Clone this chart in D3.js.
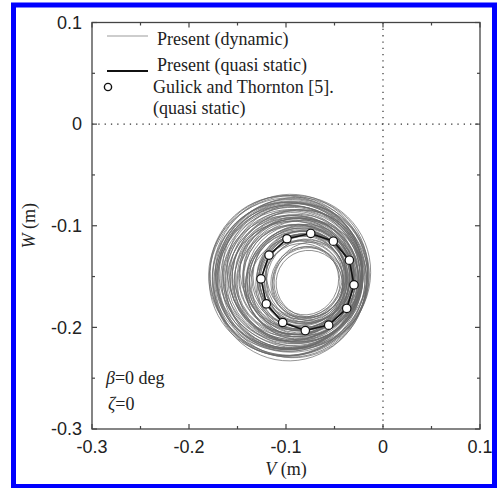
<!DOCTYPE html>
<html lang="en">
<head>
<meta charset="UTF-8">
<title>V-W orbit</title>
<style>
  body { margin: 0; background: #fff; }
  svg text { fill: #222; }
</style>
<script src="https://cdn.jsdelivr.net/npm/d3@7"></script>
</head>
<body>
<script>
// quasi static orbit (present) and Gulick and Thornton points
var qsV = [-0.0745, -0.0512, -0.0347, -0.0299, -0.0374, -0.0560, -0.0801, -0.1034, -0.1203, -0.1258, -0.1175, -0.0990];
var qsW = [-0.1076, -0.1152, -0.1339, -0.1582, -0.1814, -0.1978, -0.2031, -0.1952, -0.1769, -0.1523, -0.1289, -0.1128];

// dynamic response loops: centre, half widths and tilt of each loop
var loopV  = [-0.079, -0.077, -0.082, -0.079, -0.084, -0.080, -0.085, -0.082, -0.087, -0.083, -0.088, -0.085, -0.090, -0.086,
              -0.091, -0.087, -0.092, -0.089, -0.094, -0.090, -0.095, -0.092, -0.096, -0.094, -0.097, -0.095, -0.098, -0.096,
              -0.076, -0.081, -0.078, -0.083, -0.081, -0.086, -0.084, -0.089, -0.087, -0.089, -0.091, -0.088, -0.092, -0.094,
              -0.093, -0.097, -0.094, -0.097,
              -0.078, -0.080, -0.079, -0.082, -0.083, -0.084, -0.083, -0.087, -0.086, -0.088, -0.087, -0.090, -0.089, -0.092,
              -0.091, -0.093, -0.092, -0.095, -0.094, -0.096, -0.095, -0.097, -0.097, -0.096, -0.085, -0.090, -0.094, -0.081,
              -0.084, -0.095];
var loopW  = [-0.154, -0.156, -0.154, -0.153, -0.155, -0.152, -0.156, -0.151, -0.154, -0.150, -0.155, -0.151, -0.153, -0.149,
              -0.154, -0.151, -0.152, -0.148, -0.153, -0.150, -0.151, -0.148, -0.152, -0.149, -0.151, -0.150, -0.150, -0.149,
              -0.157, -0.152, -0.157, -0.150, -0.155, -0.152, -0.156, -0.150, -0.154, -0.149, -0.155, -0.150, -0.147, -0.154,
              -0.150, -0.150, -0.152, -0.148,
              -0.153, -0.156, -0.151, -0.157, -0.153, -0.150, -0.156, -0.151, -0.153, -0.155, -0.150, -0.153, -0.151, -0.154,
              -0.149, -0.152, -0.150, -0.153, -0.149, -0.151, -0.150, -0.152, -0.149, -0.151, -0.151, -0.152, -0.151, -0.154,
              -0.152, -0.150];
var loopRV = [0.033, 0.036, 0.040, 0.041, 0.043, 0.045, 0.046, 0.048, 0.050, 0.051, 0.053, 0.055, 0.056, 0.058,
              0.060, 0.061, 0.063, 0.065, 0.066, 0.068, 0.070, 0.071, 0.073, 0.075, 0.076, 0.078, 0.080, 0.081,
              0.034, 0.039, 0.042, 0.044, 0.047, 0.049, 0.052, 0.054, 0.057, 0.059, 0.062, 0.064, 0.067, 0.069,
              0.072, 0.074, 0.077, 0.079,
              0.035, 0.037, 0.040, 0.042, 0.045, 0.047, 0.049, 0.051, 0.053, 0.055, 0.057, 0.059, 0.061, 0.063,
              0.065, 0.067, 0.069, 0.071, 0.073, 0.075, 0.077, 0.079, 0.081, 0.080, 0.058, 0.064, 0.070, 0.046,
              0.052, 0.074];
var loopRW = [0.034, 0.035, 0.041, 0.043, 0.041, 0.046, 0.048, 0.046, 0.052, 0.050, 0.055, 0.053, 0.058, 0.057,
              0.061, 0.063, 0.061, 0.066, 0.068, 0.066, 0.071, 0.073, 0.072, 0.076, 0.078, 0.077, 0.080, 0.081,
              0.033, 0.040, 0.044, 0.043, 0.049, 0.047, 0.054, 0.052, 0.059, 0.058, 0.064, 0.062, 0.069, 0.067,
              0.074, 0.073, 0.078, 0.079,
              0.038, 0.034, 0.044, 0.038, 0.049, 0.043, 0.053, 0.047, 0.057, 0.050, 0.061, 0.054, 0.066, 0.058,
              0.069, 0.062, 0.073, 0.066, 0.076, 0.070, 0.080, 0.075, 0.079, 0.082, 0.058, 0.064, 0.070, 0.046,
              0.052, 0.074];
var loopTilt = [20, 70, 120, 160, 40, 95, 10, 135, 60, 170, 25, 110, 75, 150,
                5, 85, 130, 45, 100, 165, 30, 140, 65, 115, 15, 90, 155, 50,
                140, 55, 175, 80, 35, 125, 0, 95, 160, 20, 105, 70, 145, 10,
                120, 40, 170, 85,
                30, 100, 150, 60, 10, 120, 75, 165, 40, 90, 135, 15, 80, 125,
                55, 170, 25, 110, 65, 145, 35, 95, 160, 5, 50, 140, 100, 0,
                70, 20];

var xTicks = [-0.3, -0.2, -0.1, 0, 0.1];
var yTicks = [0.1, 0, -0.1, -0.2, -0.3];
var minorTicks = [-0.3, -0.25, -0.2, -0.15, -0.1, -0.05, 0, 0.05, 0.1];
var legendLabels = ["Present (dynamic)", "Present (quasi static)", "Gulick and Thornton [5].", "(quasi static)"];

var W = 498, H = 488;
var pL = 92, pR = 480, pT = 22.5, pB = 429;

var svg = d3.select("body").append("svg")
    .attr("width", W)
    .attr("height", H);

var x = d3.scaleLinear().domain([-0.3, 0.1]).range([pL, pR]);
var y = d3.scaleLinear().domain([-0.3, 0.1]).range([pB, pT]);

svg.append("defs").append("clipPath").attr("id", "plot")
    .append("rect")
    .attr("x", pL).attr("y", pT)
    .attr("width", pR - pL).attr("height", pB - pT);

// dotted reference lines at zero
svg.append("line")
    .attr("x1", pL).attr("x2", pR)
    .attr("y1", y(0)).attr("y2", y(0))
    .attr("stroke", "#333").attr("stroke-width", 1.2)
    .attr("stroke-dasharray", "1.3,5");
svg.append("line")
    .attr("x1", x(0)).attr("x2", x(0))
    .attr("y1", pT).attr("y2", pB)
    .attr("stroke", "#333").attr("stroke-width", 1.2)
    .attr("stroke-dasharray", "1.3,5");

// dynamic loops
var loops = loopV.map(function(v, i) {
    return {v: v, w: loopW[i], rv: loopRV[i], rw: loopRW[i], t: loopTilt[i]};
});
svg.append("g").attr("clip-path", "url(#plot)")
    .selectAll("ellipse")
    .data(loops)
    .enter().append("ellipse")
    .attr("cx", 0).attr("cy", 0)
    .attr("rx", d => x(d.rv) - x(0))
    .attr("ry", d => y(0) - y(d.rw))
    .attr("transform", d => "translate(" + x(d.v) + "," + y(d.w) + ") rotate(" + d.t + ")")
    .attr("fill", "none")
    .attr("stroke", "#6a6a6a")
    .attr("stroke-opacity", 0.85)
    .attr("stroke-width", 0.8);

// quasi static line
var pts = qsV.map((v, i) => [v, qsW[i]]);
svg.append("path")
    .datum(pts)
    .attr("d", d3.line().x(d => x(d[0])).y(d => y(d[1])).curve(d3.curveLinearClosed))
    .attr("fill", "none")
    .attr("stroke", "#111")
    .attr("stroke-width", 1.6);

svg.selectAll("circle.gt")
    .data(pts)
    .enter().append("circle")
    .attr("class", "gt")
    .attr("cx", d => x(d[0]))
    .attr("cy", d => y(d[1]))
    .attr("r", 4.2)
    .attr("fill", "#fff")
    .attr("stroke", "#111")
    .attr("stroke-width", 1.2);

// axes, ticks inward on all four sides
var axisStroke = "#444";
function tickMarks(vals, isX, edge, dir) {
    vals.forEach(function(v) {
        var major = xTicks.indexOf(v) >= 0;
        var len = major ? 5 : 3;
        if (isX) {
            svg.append("line").attr("x1", x(v)).attr("x2", x(v))
                .attr("y1", edge).attr("y2", edge + dir * len)
                .attr("stroke", axisStroke).attr("stroke-width", 1.2);
        } else {
            svg.append("line").attr("y1", y(v)).attr("y2", y(v))
                .attr("x1", edge).attr("x2", edge + dir * len)
                .attr("stroke", axisStroke).attr("stroke-width", 1.2);
        }
    });
}
tickMarks(minorTicks, true, pB, -1);
tickMarks(minorTicks, true, pT, 1);
tickMarks(minorTicks, false, pL, 1);
tickMarks(minorTicks, false, pR, -1);

svg.append("rect")
    .attr("x", pL).attr("y", pT)
    .attr("width", pR - pL).attr("height", pB - pT)
    .attr("fill", "none")
    .attr("stroke", axisStroke)
    .attr("stroke-width", 1.3);

svg.selectAll("text.xt")
    .data(xTicks)
    .enter().append("text")
    .attr("class", "xt")
    .attr("x", d => x(d))
    .attr("y", pB + 24)
    .attr("text-anchor", "middle")
    .style("font-family", "Liberation Sans, Arial, sans-serif")
    .style("font-size", "18px")
    .text(d => d === 0 ? "0" : d);

svg.selectAll("text.yt")
    .data(yTicks)
    .enter().append("text")
    .attr("class", "yt")
    .attr("x", pL - 10)
    .attr("y", d => y(d))
    .attr("dy", "0.35em")
    .attr("text-anchor", "end")
    .style("font-family", "Liberation Sans, Arial, sans-serif")
    .style("font-size", "18px")
    .text(d => d === 0 ? "0" : d);

// axis titles
var serif = "Liberation Serif, Times New Roman, serif";
var xt = svg.append("text")
    .attr("x", (pL + pR) / 2)
    .attr("y", 475)
    .attr("text-anchor", "middle")
    .style("font-family", serif)
    .style("font-size", "18px");
xt.append("tspan").style("font-style", "italic").text("V");
xt.append("tspan").text(" (m)");

var yt = svg.append("text")
    .attr("transform", "translate(35," + (pT + pB) / 2 + ") rotate(-90)")
    .attr("text-anchor", "middle")
    .style("font-family", serif)
    .style("font-size", "18px");
yt.append("tspan").style("font-style", "italic").text("W");
yt.append("tspan").text(" (m)");

// legend
var lg = svg.append("g").style("font-family", serif).style("font-size", "18px");
lg.append("line").attr("x1", 107).attr("x2", 148).attr("y1", 36).attr("y2", 36)
    .attr("stroke", "#bdbdbd").attr("stroke-width", 1.5);
lg.append("line").attr("x1", 107).attr("x2", 148).attr("y1", 71).attr("y2", 71)
    .attr("stroke", "#111").attr("stroke-width", 2);
lg.append("circle").attr("cx", 108).attr("cy", 87).attr("r", 3.6)
    .attr("fill", "#fff").attr("stroke", "#111").attr("stroke-width", 1.4);
var legendY = [45, 71, 93, 114];
legendLabels.forEach(function(t, i) {
    lg.append("text").attr("x", i < 2 ? 157 : 153).attr("y", legendY[i]).text(t);
});

// parameter notes
var note = svg.append("g").style("font-family", serif).style("font-size", "18px");
var n1 = note.append("text").attr("x", 106).attr("y", 384);
n1.append("tspan").style("font-style", "italic").text("β");
n1.append("tspan").text("=0 deg");
var n2 = note.append("text").attr("x", 108).attr("y", 410);
n2.append("tspan").style("font-style", "italic").text("ζ");
n2.append("tspan").text("=0");

// blue frame
svg.append("rect")
    .attr("x", 13.5).attr("y", 5)
    .attr("width", 481).attr("height", 481.5)
    .attr("fill", "none")
    .attr("stroke", "#0000ff")
    .attr("stroke-width", 5);
</script>
</body>
</html>
